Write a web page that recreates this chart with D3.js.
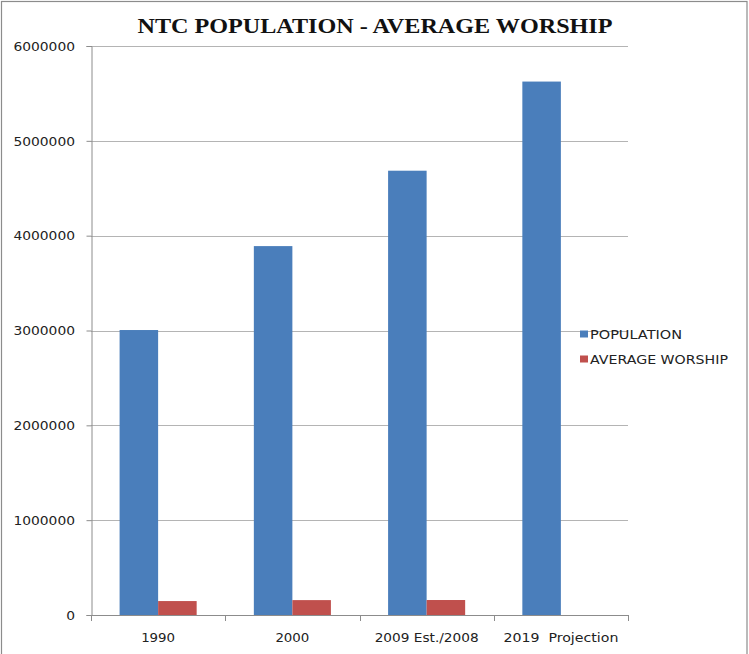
<!DOCTYPE html>
<html>
<head>
<meta charset="utf-8">
<script src="https://cdn.jsdelivr.net/npm/d3@7"></script>
<style>
  html, body { margin: 0; padding: 0; background: #fff; }
  svg { display: block; }
</style>
</head>
<body>
<svg id="chart" width="749" height="654"></svg>
<script>
// Categories, series and values
const categories = ["1990", "2000", "2009 Est./2008", "2019  Projection"];
const seriesNames = ["POPULATION", "AVERAGE WORSHIP"];
const population = [3005000, 3890000, 4685000, 5625000];
const averageWorship = [147000, 157000, 158000, null];
const yTicks = [0, 1000000, 2000000, 3000000, 4000000, 5000000, 6000000];
const seriesColors = ["#4a7ebb", "#c0504d"];

const svg = d3.select("#chart");

// outer frame
svg.append("rect")
  .attr("x", 1.5).attr("y", 1.5)
  .attr("width", 745.5).attr("height", 700)
  .attr("fill", "#fff").attr("stroke", "#8c8c8c").attr("stroke-width", 1.2);

const plot = { left: 91, right: 628, top: 46, bottom: 615 };

const y = d3.scaleLinear().domain([0, 6000000]).range([plot.bottom, plot.top]);
const x0 = d3.scaleBand().domain(categories).range([plot.left, plot.right]).padding(0);
const step = x0.bandwidth();
const groupPad = step * 0.213;
const x1 = d3.scaleBand().domain(seriesNames).range([groupPad, step - groupPad]).padding(0);

// gridlines
svg.append("g")
  .selectAll("line")
  .data(yTicks.filter(d => d > 0))
  .join("line")
  .attr("x1", plot.left).attr("x2", plot.right)
  .attr("y1", d => Math.round(y(d)) + 0.5).attr("y2", d => Math.round(y(d)) + 0.5)
  .attr("stroke", "#b4b4b4").attr("stroke-width", 1);

// bars
const rows = categories.map((c, i) => ({
  cat: c,
  vals: [
    { s: seriesNames[0], v: population[i], color: seriesColors[0] },
    { s: seriesNames[1], v: averageWorship[i], color: seriesColors[1] }
  ]
}));

const groups = svg.append("g").selectAll("g")
  .data(rows).join("g")
  .attr("transform", d => `translate(${x0(d.cat)},0)`);

groups.selectAll("rect")
  .data(d => d.vals.filter(e => e.v != null))
  .join("rect")
  .attr("x", d => x1(d.s))
  .attr("width", x1.bandwidth())
  .attr("y", d => y(d.v))
  .attr("height", d => y(0) - y(d.v))
  .attr("fill", d => d.color);

// y axis
const yAxis = d3.axisLeft(y).tickValues(yTicks).tickSize(5).tickPadding(6).tickFormat(d3.format("d"));
const gy = svg.append("g").attr("transform", `translate(${plot.left + 0.5},0)`).call(yAxis);
gy.select(".domain").attr("stroke", "#8c8c8c");
gy.selectAll(".tick line").attr("stroke", "#8c8c8c");
gy.selectAll(".tick text")
  .attr("font-family", "'DejaVu Sans', sans-serif")
  .attr("font-size", 12)
  .attr("fill", "#222")
  .attr("x", -16.5)
  .attr("dy", "0.36em")
  .each(function(d) {
    const n = String(d).length;
    d3.select(this).attr("textLength", n * 8.8).attr("lengthAdjust", "spacingAndGlyphs");
  });

// x axis
const xAxis = d3.axisBottom(x0).tickSize(0).tickFormat(d => d);
const gx = svg.append("g").attr("transform", `translate(0,${plot.bottom + 0.5})`).call(xAxis);
gx.select(".domain").attr("stroke", "#8c8c8c").attr("d", `M${plot.left},0H${plot.right}`);
gx.selectAll(".tick text").remove();
// category separator ticks
svg.append("g").selectAll("line")
  .data(categories.map(c => x0(c)).concat([plot.right]))
  .join("line")
  .attr("x1", d => Math.round(d) + 0.5).attr("x2", d => Math.round(d) + 0.5)
  .attr("y1", plot.bottom).attr("y2", plot.bottom + 6)
  .attr("stroke", "#8c8c8c");

const xLabelWidths = { "1990": 34, "2000": 34, "2009 Est./2008": 104, "2019  Projection": 115 };
svg.append("g").selectAll("text")
  .data(categories).join("text")
  .attr("x", d => x0(d) + step / 2)
  .attr("y", 642)
  .attr("text-anchor", "middle")
  .attr("font-family", "'DejaVu Sans', sans-serif")
  .attr("font-size", 12)
  .attr("fill", "#222")
  .attr("xml:space", "preserve")
  .attr("textLength", d => xLabelWidths[d])
  .attr("lengthAdjust", "spacingAndGlyphs")
  .text(d => d);

// title
svg.append("text")
  .attr("x", 375).attr("y", 33)
  .attr("text-anchor", "middle")
  .attr("font-family", "'Liberation Serif', 'Times New Roman', serif")
  .attr("font-weight", "bold")
  .attr("font-size", 21)
  .attr("fill", "#111")
  .attr("textLength", 475)
  .attr("lengthAdjust", "spacingAndGlyphs")
  .text("NTC POPULATION - AVERAGE WORSHIP");

// legend
const legend = svg.append("g");
const legendRows = [
  { name: seriesNames[0], color: seriesColors[0], y: 334, w: 92 },
  { name: seriesNames[1], color: seriesColors[1], y: 359, w: 138 }
];
legend.selectAll("rect").data(legendRows).join("rect")
  .attr("x", 580).attr("y", d => d.y - 3.5)
  .attr("width", 8).attr("height", 7)
  .attr("fill", d => d.color);
legend.selectAll("text").data(legendRows).join("text")
  .attr("x", 590).attr("y", d => d.y)
  .attr("dy", "0.36em")
  .attr("font-family", "'DejaVu Sans', sans-serif")
  .attr("font-size", 13)
  .attr("fill", "#222")
  .attr("textLength", d => d.w)
  .attr("lengthAdjust", "spacingAndGlyphs")
  .text(d => d.name);
</script>
</body>
</html>
